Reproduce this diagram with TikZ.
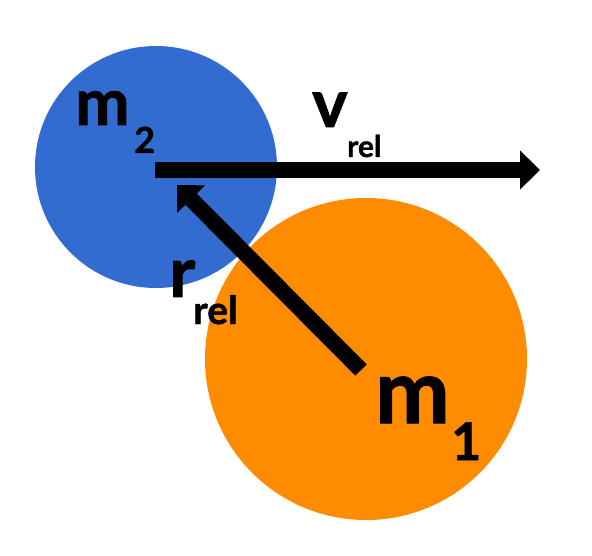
\documentclass[tikz,border=0pt]{standalone}
\usepackage{fontspec}
\setmainfont{Lato}[BoldFont={* Bold}, BoldFeatures={FakeBold=1.2}]
\usetikzlibrary{arrows.meta}
\definecolor{bluem}{RGB}{51,108,209}
\definecolor{orangem}{RGB}{255,140,0}
\tikzset{
  vec/.style={line width=16pt, -{Triangle[length=20pt,width=38pt]}},
  lbl/.style={inner sep=0pt, anchor=base west, font=\bfseries},
}
\begin{document}
\begin{tikzpicture}[x=1pt,y=-1pt]
\useasboundingbox (0,0) rectangle (592,556);
\fill[bluem] (156,167) circle (121);
\fill[orangem] (366,359) circle (161);
\coordinate (vs) at (155,170);
\coordinate (ve) at (540,170);
\coordinate (rs) at (361,370);
\coordinate (re) at (177,185);
\draw[vec] (vs) -- (ve);
\draw[vec] (rs) -- (re);
\node[lbl, font=\bfseries\fontsize{65}{65}\selectfont] (m2) at (75,125) {m};
\node[lbl, font=\bfseries\fontsize{36}{36}\selectfont] (m2s) at (134,153) {2};
\node[lbl, font=\bfseries\fontsize{67}{67}\selectfont] (v) at (312,127) {v};
\node[lbl, font=\bfseries\fontsize{30}{30}\selectfont] (vs2) at (347,157) {rel};
\node[lbl, font=\bfseries\fontsize{70}{70}\selectfont] (r) at (169,297) {r};
\node[lbl, font=\bfseries\fontsize{39}{39}\selectfont] (rs2) at (193,324) {rel};
\node[lbl, font=\bfseries\fontsize{89}{89}\selectfont] (m1) at (375,423) {m};
\node[lbl, font=\bfseries\fontsize{52}{52}\selectfont] (m1s) at (451,460) {1};
\end{tikzpicture}
\end{document}
